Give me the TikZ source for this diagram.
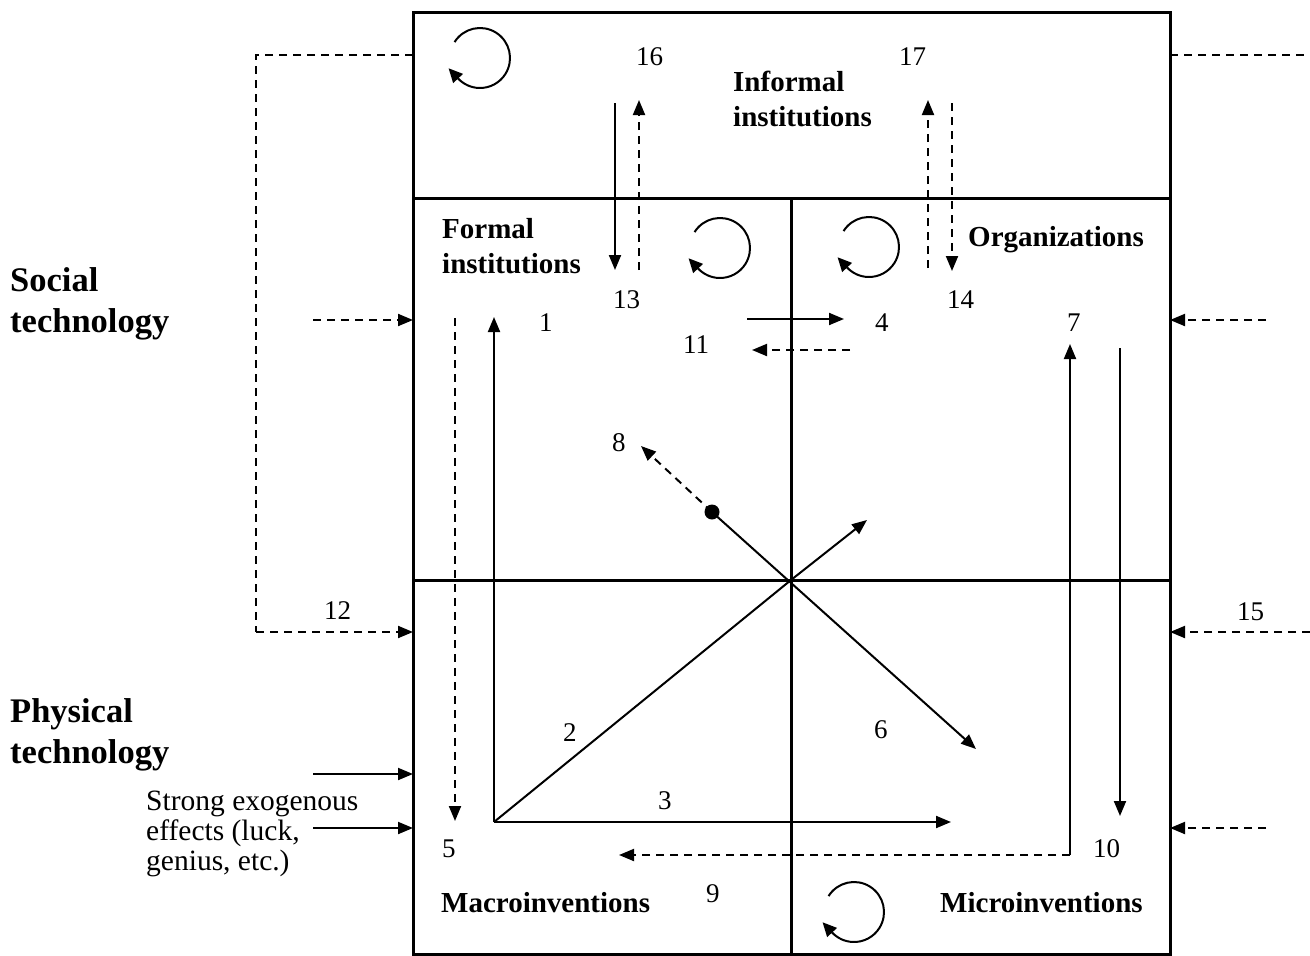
\documentclass[tikz,border=0pt]{standalone}
\usepackage{fontspec}
\setmainfont{Liberation Serif}
\usetikzlibrary{arrows.meta,calc}
\begin{document}
\begin{tikzpicture}[x=1pt,y=-1pt,
  frame/.style={line width=3pt},
  arr/.style={line width=2pt,-{Triangle[length=15pt,width=12pt]}},
  darr/.style={arr,dash pattern=on 8pt off 6pt},
  dline/.style={line width=2pt,dash pattern=on 8pt off 6pt},
  cycline/.style={line width=2pt},
  cyctip/.style={line width=2pt,-{Triangle[length=14pt,width=13pt]}},
  num/.style={anchor=base west,inner sep=0pt,font=\fontsize{27}{32}\selectfont},
  lab/.style={anchor=base west,inner sep=0pt,font=\fontsize{29}{35}\selectfont\bfseries,align=left},
  big/.style={anchor=base west,inner sep=0pt,font=\fontsize{34.5}{41}\selectfont\bfseries,align=left},
  plain/.style={anchor=base west,inner sep=0pt,font=\fontsize{29.5}{30}\selectfont,align=left}]
\useasboundingbox (0,0) rectangle (1310,956);
% frame
\coordinate (TL) at (413,12); \coordinate (BR) at (1170,954);
\draw[frame] (TL) rectangle (BR);
\coordinate (hAl) at (413,198); \coordinate (hAr) at (1170,198);
\coordinate (hBl) at (413,580); \coordinate (hBr) at (1170,580);
\coordinate (vT) at (791,198); \coordinate (vB) at (791,954);
\draw[frame] (hAl) -- (hAr);
\draw[frame] (hBl) -- (hBr);
\draw[frame] (vT) -- (vB);
\coordinate (C) at (791,580);
% cycles
\coordinate (c1) at (480,58);
\coordinate (c2) at (720,248);
\coordinate (c3) at (869,247);
\coordinate (c4) at (854,912);
\foreach \c in {c1,c2,c3,c4}{
  \draw[cycline] ($(\c)+(212:30)$) arc[start angle=212,end angle=497,radius=30];
  \draw[cyctip] ($(\c)+(497:30)$) -- ++(-9.5,-10.2);
}
% top arrows
\coordinate (a16t) at (615,103); \coordinate (a16b) at (615,270);
\draw[arr] (a16t) -- (a16b);
\coordinate (b16b) at (639,270); \coordinate (b16t) at (639,100);
\draw[darr] (b16b) -- (b16t);
\coordinate (a17b) at (928,268); \coordinate (a17t) at (928,100);
\draw[darr] (a17b) -- (a17t);
\coordinate (b17t) at (952,103); \coordinate (b17b) at (952,271);
\draw[darr] (b17t) -- (b17b);
% 4 and 11
\coordinate (a4s) at (747,319); \coordinate (a4e) at (844,319);
\draw[arr] (a4s) -- (a4e);
\coordinate (a11s) at (850,350); \coordinate (a11e) at (752,350);
\draw[darr] (a11s) -- (a11e);
% 1,5,3,2
\coordinate (O) at (494,822);
\coordinate (a1e) at (494,317);
\draw[arr] (O) -- (a1e);
\coordinate (a5s) at (455,318); \coordinate (a5e) at (455,821);
\draw[darr] (a5s) -- (a5e);
\coordinate (a3e) at (951,822);
\draw[arr] (O) -- (a3e);
\coordinate (a2e) at (867,520);
\draw[line width=2pt] (O) -- (C);
\draw[arr] (C) -- (a2e);
% 6 and 8
\coordinate (dot) at (712,512);
\coordinate (a6e) at (976,749);
\draw[arr] (dot) -- (a6e);
\fill (dot) circle (7.5);
\coordinate (a8e) at (641,446);
\draw[darr] (dot) -- (a8e);
% 7, 10, 9
\coordinate (a7s) at (1070,855); \coordinate (a7e) at (1070,344);
\draw[arr] (a7s) -- (a7e);
\coordinate (a10s) at (1120,348); \coordinate (a10e) at (1120,816);
\draw[arr] (a10s) -- (a10e);
\coordinate (a9e) at (619,855);
\draw[darr] (a7s) -- (a9e);
% left side
\coordinate (l1) at (413,55); \coordinate (l2) at (256,55);
\coordinate (l3) at (256,632); \coordinate (l4) at (413,632);
\draw[dline] (l1) -- (l2) -- (l3);
\draw[darr] (l3) -- (l4);
\coordinate (ls1) at (313,320); \coordinate (le1) at (413,320);
\draw[darr] (ls1) -- (le1);
\coordinate (ls2) at (313,774); \coordinate (le2) at (413,774);
\draw[arr] (ls2) -- (le2);
\coordinate (ls3) at (313,828); \coordinate (le3) at (413,828);
\draw[arr] (ls3) -- (le3);
% right side
\coordinate (r1) at (1170,55); \coordinate (r2) at (1310,55);
\draw[dline] (r1) -- (r2);
\coordinate (rs1) at (1266,320); \coordinate (re1) at (1170,320);
\draw[darr] (rs1) -- (re1);
\coordinate (rs2) at (1310,632); \coordinate (re2) at (1170,632);
\draw[darr] (rs2) -- (re2);
\coordinate (rs3) at (1266,828); \coordinate (re3) at (1170,828);
\draw[darr] (rs3) -- (re3);
% numbers
\node[num] (n16) at (636,65) {16};
\node[num] (n17) at (899,65) {17};
\node[num] (n13) at (613,308) {13};
\node[num] (n14) at (947,308) {14};
\node[num] (n1) at (539,331) {1};
\node[num] (n4) at (875,331) {4};
\node[num] (n11) at (683,353) {11};
\node[num] (n7) at (1067,331) {7};
\node[num] (n8) at (612,451) {8};
\node[num] (n12) at (324,619) {12};
\node[num] (n15) at (1237,620) {15};
\node[num] (n2) at (563,741) {2};
\node[num] (n6) at (874,738) {6};
\node[num] (n3) at (658,809) {3};
\node[num] (n5) at (442,857) {5};
\node[num] (n10) at (1093,857) {10};
\node[num] (n9) at (706,902) {9};
% labels (base = last line)
\node[lab] (inf) at (733,126) {Informal\\institutions};
\node[lab] (frm) at (442,273) {Formal\\institutions};
\node[lab] (org) at (968,246) {Organizations};
\node[lab] (mac) at (441,912) {Macroinventions};
\node[lab] (mic) at (940,912) {Microinventions};
\node[big] (soc) at (10,332) {Social\\technology};
\node[big] (phy) at (10,763) {Physical\\technology};
\node[plain] (exo) at (146,870) {Strong exogenous\\effects (luck,\\genius, etc.)};
\end{tikzpicture}
\end{document}
